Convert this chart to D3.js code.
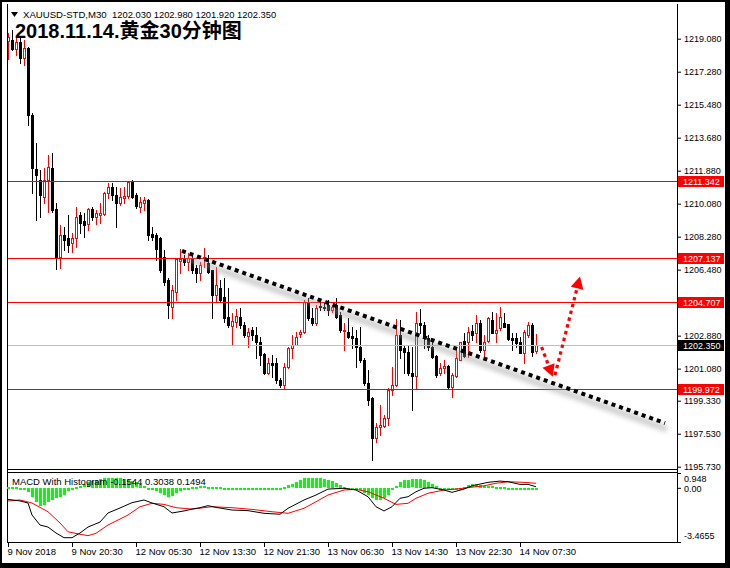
<!DOCTYPE html>
<html><head><meta charset="utf-8">
<script src="https://cdn.jsdelivr.net/npm/d3@7"></script>
<style>body{margin:0;background:#fff}svg{display:block}</style>
</head><body><svg id="c" width="730" height="568"></svg>
<script>
// ---------- DATA ----------
const opens = [1218.97,1219.03,1218.54,1218.92,1218.04,1218.59,1214.93,1211.99,1211.39,1210.46,1211.39,1212.04,1209.81,1207.18,1208.39,1208.22,1207.95,1208.22,1209.48,1209.15,1208.99,1209.81,1209.37,1209.48,1209.53,1210.68,1211.01,1210.57,1210.13,1210.41,1210.52,1211.28,1210.57,1209.91,1210.13,1210.30,1208.44,1208.39,1208.22,1207.18,1205.93,1204.46,1205.28,1206.97,1207.13,1206.91,1207.13,1206.59,1206.32,1207.13,1206.86,1206.48,1205.11,1205.50,1205.01,1203.91,1203.42,1203.64,1203.91,1203.48,1202.88,1203.21,1202.93,1202.55,1201.89,1200.86,1201.41,1201.41,1200.48,1200.20,1201.19,1202.22,1202.39,1202.99,1203.10,1204.73,1203.86,1203.59,1204.51,1204.46,1204.57,1204.30,1204.57,1204.02,1203.15,1203.10,1202.88,1202.77,1202.28,1201.57,1200.31,1199.50,1197.31,1197.91,1197.97,1198.40,1199.93,1200.20,1202.93,1202.22,1202.00,1200.86,1200.69,1203.59,1203.48,1202.77,1202.28,1201.79,1200.86,1201.13,1201.24,1200.09,1200.69,1201.57,1202.61,1202.55,1203.15,1203.04,1203.59,1202.11,1202.61,1203.75,1203.04,1203.31,1203.59,1203.53,1202.77,1202.77,1202.55,1201.95,1202.93,1203.48,1202.03];
const highs = [1219.41,1219.57,1219.14,1219.14,1219.03,1218.64,1215.04,1213.41,1211.93,1212.04,1212.75,1212.86,1210.13,1208.93,1208.82,1209.48,1208.50,1209.91,1209.64,1209.59,1209.86,1209.91,1209.75,1210.13,1210.73,1211.22,1211.22,1211.01,1210.95,1211.01,1211.33,1211.39,1210.68,1210.46,1210.46,1210.35,1208.82,1208.50,1208.28,1207.57,1206.04,1205.66,1207.13,1207.62,1207.29,1207.40,1207.29,1206.75,1206.91,1207.68,1207.29,1206.48,1206.64,1205.93,1206.04,1205.50,1204.13,1204.35,1204.41,1203.64,1203.31,1203.37,1203.37,1202.82,1201.95,1201.68,1201.84,1201.68,1200.59,1201.41,1202.28,1202.93,1203.10,1203.21,1204.84,1204.95,1204.41,1204.57,1204.73,1204.73,1204.84,1204.57,1204.95,1204.19,1203.59,1203.86,1203.37,1203.21,1203.37,1201.68,1201.02,1199.55,1198.13,1199.11,1198.57,1200.04,1201.19,1203.80,1203.75,1202.39,1202.39,1202.28,1204.19,1204.35,1203.64,1202.93,1202.66,1201.84,1201.41,1201.57,1201.30,1200.86,1202.22,1202.55,1203.04,1203.37,1203.48,1204.02,1203.75,1202.93,1203.91,1204.19,1204.13,1204.46,1204.13,1203.53,1203.04,1203.04,1202.82,1203.21,1203.64,1203.59,1202.98];
const lows = [1217.99,1218.48,1218.21,1217.77,1217.66,1214.39,1210.68,1209.21,1209.37,1210.13,1209.64,1209.64,1206.53,1206.59,1207.57,1207.46,1207.46,1207.73,1208.50,1208.28,1208.66,1209.21,1208.99,1209.04,1209.48,1210.41,1210.30,1208.82,1210.02,1210.13,1210.41,1210.41,1209.86,1209.64,1209.75,1208.11,1208.11,1207.02,1206.37,1205.66,1203.86,1203.86,1204.84,1206.32,1206.75,1206.48,1206.32,1205.82,1205.93,1206.64,1206.32,1203.86,1204.73,1204.73,1203.64,1203.37,1202.39,1203.37,1203.31,1202.82,1202.28,1202.66,1201.68,1201.30,1200.80,1200.80,1200.64,1200.31,1200.09,1200.04,1201.13,1201.68,1202.39,1202.82,1203.04,1203.75,1203.48,1203.48,1204.30,1204.30,1204.02,1204.19,1203.86,1203.10,1202.11,1202.77,1202.22,1201.19,1201.46,1200.20,1199.11,1196.11,1197.09,1197.48,1197.91,1198.02,1199.66,1200.15,1201.68,1200.86,1200.75,1198.84,1200.04,1203.04,1202.22,1202.11,1201.68,1200.64,1200.75,1200.86,1200.04,1199.55,1200.64,1201.57,1201.73,1201.73,1202.66,1202.55,1202.00,1201.73,1202.55,1203.04,1202.55,1203.21,1203.37,1202.66,1202.11,1202.28,1201.95,1201.41,1202.82,1201.79,1201.92];
const closes = [1219.19,1218.54,1218.92,1218.04,1218.59,1214.93,1212.04,1211.66,1210.57,1211.39,1212.10,1209.75,1207.18,1208.39,1208.11,1207.84,1208.22,1209.37,1209.04,1208.93,1209.81,1209.37,1209.59,1209.59,1210.68,1211.01,1210.57,1210.13,1210.46,1210.52,1211.28,1210.46,1209.97,1210.19,1210.30,1208.39,1208.28,1207.62,1206.48,1205.82,1204.57,1205.39,1207.08,1207.08,1206.91,1207.13,1206.48,1206.32,1206.75,1207.18,1206.37,1205.11,1205.66,1204.84,1203.86,1203.48,1203.70,1203.97,1203.48,1202.93,1203.10,1202.93,1202.55,1201.84,1200.86,1201.41,1201.30,1200.48,1200.20,1201.19,1202.22,1202.39,1202.82,1203.10,1204.73,1203.86,1203.59,1204.41,1204.46,1204.41,1204.30,1204.46,1203.91,1203.21,1203.21,1202.82,1202.77,1202.28,1201.57,1200.31,1199.39,1197.31,1197.91,1198.02,1198.40,1199.93,1200.20,1202.93,1202.11,1202.00,1200.86,1200.69,1203.59,1203.48,1202.77,1202.28,1201.73,1200.75,1201.13,1201.24,1200.09,1200.75,1201.68,1202.55,1201.79,1203.10,1202.93,1203.59,1202.11,1202.55,1203.86,1203.04,1203.21,1203.91,1203.37,1202.71,1202.66,1202.50,1201.95,1203.10,1203.48,1202.00,1202.35];

const histValues = [0.05,0.05,0.03,0.0,-0.05,
 -0.25,-0.57,-0.89,-1.14,-1.06,-0.89,-0.74,-0.67,-0.57,-0.42,-0.2,-0.08,0.05,0.13,0.22,0.35,0.43,0.5,0.56,0.61,0.65,0.65,0.65,0.61,0.56,0.5,0.43,0.35,0.24,0.13,0.0,-0.08,-0.16,-0.29,-0.42,-0.57,-0.5,-0.35,-0.2,-0.08,0.0,
 0.05,0.08,0.1,0.1,0.08,0.06,0.05,0.03,0.02,0.0,
 -0.05,-0.08,-0.1,-0.12,-0.12,-0.12,-0.12,-0.12,-0.12,-0.1,-0.1,-0.08,-0.05,
 0.05,0.18,0.22,0.39,0.52,0.61,0.63,0.65,0.65,0.61,0.54,0.48,0.43,0.28,0.18,0.05,-0.03,-0.05,-0.08,-0.14,-0.29,-0.46,-0.61,-0.76,-0.78,-0.67,-0.46,-0.14,0.13,0.35,0.48,0.52,0.54,0.56,0.56,0.52,0.39,0.26,0.09,0.0,-0.03,-0.08,-0.12,-0.1,-0.03,0.07,0.18,0.22,0.22,0.18,0.11,0.09,0.09,0.07,0.05,0.03,0.0,-0.03,-0.08,-0.12,-0.14,-0.12,-0.12,-0.15];
// MACD main line (black) read at these bars
const macdBars   = [0,3,5,6,8,10,12,14,16,18,20,23,25,28,31,34,36,39,41,44,46,48,50,52,56,60,64,68,70,74,77,80,84,87,90,92,94,96,98,100,102,104,106,109,111,114,116,120,123,125,128,130,132];
const macdValues = [-0.74,-0.84,-0.97,-1.74,-2.38,-2.51,-2.89,-3.19,-3.19,-2.89,-2.51,-2.19,-1.61,-1.29,-0.95,-0.78,-0.97,-1.21,-1.61,-1.48,-1.36,-1.27,-1.14,-1.25,-1.42,-1.46,-1.63,-1.69,-1.31,-0.78,-0.46,-0.08,-0.03,-0.14,-0.57,-1.21,-1.48,-1.21,-0.67,-0.57,-0.25,-0.03,0.01,-0.14,-0.29,-0.08,0.13,0.35,0.43,0.39,0.22,0.22,0.07];
// signal line (red) read at these bars
const signalBars   = [0,3,6,10,13,15,18,20,22,25,30,33,36,39,42,46,51,56,61,66,70,74,77,80,84,87,90,94,97,100,102,105,109,112,115,119,122,125,129,132];
const signalValues = [-0.84,-0.78,-0.97,-1.53,-2.25,-2.81,-2.97,-3.06,-2.91,-2.38,-1.74,-1.21,-0.99,-1.06,-1.27,-1.36,-1.21,-1.27,-1.38,-1.53,-1.63,-1.31,-0.89,-0.46,-0.14,-0.10,-0.25,-0.67,-1.06,-0.99,-0.67,-0.35,-0.14,-0.08,0.01,0.13,0.29,0.39,0.35,0.29];

const priceTicks = [1219.08,1217.28,1215.48,1213.68,1211.88,1210.08,1208.28,1206.48,1202.88,1201.08,1199.33,1197.53,1195.73];
const priceTickLabels = ["1219.080","1217.280","1215.480","1213.680","1211.880","1210.080","1208.280","1206.480","1202.880","1201.080","1199.330","1197.530","1195.730"];
const levelPrices = [1211.342,1207.137,1204.707,1199.972];
const levelLabels = ["1211.342","1207.137","1204.707","1199.972"];
const lastPrice = 1202.35, lastLabel = "1202.350";
const timeTickBars = [0,16,32,48,64,80,96,112,128];
const timeLabels = ["9 Nov 2018","9 Nov 20:30","12 Nov 05:30","12 Nov 13:30","12 Nov 21:30","13 Nov 06:30","13 Nov 14:30","13 Nov 22:30","14 Nov 07:30"];
const macdTicks = [0.948, 0, -3.4655];
const macdTickLabels = ["0.948","0.00","-3.4655"];
const trendLine = [[43.5,1207.50],[164.25,1198.11]];
const arrowDown = [[133.4,1202.26],[136.2,1200.64]];
const arrowUp = [[136.75,1200.73],[143,1206.10]];
const headerSymbol = "XAUUSD-STD,M30";
const headerValues = "1202.030 1202.980 1201.920 1202.350";
const titleText = "2018.11.14.黄金30分钟图";
const macdTitle = "MACD With Histogram -0.1544 0.3038 0.1494";

// ---------- LAYOUT ----------
const svg = d3.select("#c");
const L = 7, R = 677, mTop = 4, mBot = 470, iTop = 472, iBot = 543;
const x = d3.scaleLinear().domain([0,132]).range([8,536]);
const y = d3.scaleLinear().domain([1195.73,1219.08]).range([466.7,38.7]);
const yM = d3.scaleLinear().domain([-3.4655,0.948]).range([542,473]);
const FONT = "'Liberation Sans', Arial, sans-serif";

svg.append("rect").attr("width",730).attr("height",568).attr("fill","#000");
svg.append("rect").attr("x",2).attr("y",2).attr("width",723).attr("height",561).attr("fill","#fff");

const defs = svg.append("defs");
defs.append("clipPath").attr("id","mainClip").append("rect").attr("x",L+1).attr("y",mTop).attr("width",R-L-1).attr("height",mBot-mTop);
defs.append("filter").attr("id","blur").attr("x","-10%").attr("y","-50%").attr("width","120%").attr("height","200%")
  .append("feGaussianBlur").attr("stdDeviation",2.4);

// frame lines
const frame = svg.append("g").attr("stroke","#000").attr("shape-rendering","crispEdges");
frame.append("line").attr("x1",L+0.5).attr("x2",L+0.5).attr("y1",mTop).attr("y2",iBot);
frame.append("line").attr("x1",R+0.5).attr("x2",R+0.5).attr("y1",mTop).attr("y2",iBot);
frame.append("line").attr("x1",L).attr("x2",R+1).attr("y1",mBot-0.5).attr("y2",mBot-0.5);
frame.append("line").attr("x1",L).attr("x2",R+1).attr("y1",iTop+0.5).attr("y2",iTop+0.5);
frame.append("line").attr("x1",L).attr("x2",R+1).attr("y1",iBot-0.5).attr("y2",iBot-0.5);

const main = svg.append("g").attr("clip-path","url(#mainClip)");

// candles
const bars = d3.range(opens.length).map(i => ({i, o:opens[i], h:highs[i], l:lows[i], c:closes[i]}));
const cg = main.append("g").attr("shape-rendering","crispEdges");
bars.forEach(d => {
  const cx = Math.round(x(d.i));
  const bull = d.c > d.o;
  const col = bull ? "#ff0000" : "#000";
  cg.append("line").attr("x1",cx+0.5).attr("x2",cx+0.5)
    .attr("y1",Math.round(y(d.h))).attr("y2",Math.round(y(d.l))+1).attr("stroke",col);
  const yt = Math.round(y(Math.max(d.o,d.c))), yb = Math.round(y(Math.min(d.o,d.c)));
  if (bull) {
    cg.append("rect").attr("x",cx-0.5).attr("y",yt+0.5).attr("width",2).attr("height",Math.max(0,yb-yt))
      .attr("fill","#fff").attr("stroke",col);
  } else {
    cg.append("rect").attr("x",cx-1).attr("y",yt).attr("width",3).attr("height",Math.max(1,yb-yt+1)).attr("fill",col);
  }
});

// current price line
main.append("line").attr("x1",L).attr("x2",R).attr("y1",Math.round(y(lastPrice))+0.5).attr("y2",Math.round(y(lastPrice))+0.5)
  .attr("stroke","#c0c0c0").attr("shape-rendering","crispEdges");
// level lines
main.selectAll("line.lvl").data(levelPrices).join("line").attr("class","lvl")
  .attr("x1",L).attr("x2",R).attr("y1",d=>Math.round(y(d))+0.5).attr("y2",d=>Math.round(y(d))+0.5)
  .attr("stroke","#ff0000").attr("shape-rendering","crispEdges");

// trend line with shadow
const tx1 = x(trendLine[0][0]), ty1 = y(trendLine[0][1]), tx2 = x(trendLine[1][0]), ty2 = y(trendLine[1][1]);
main.append("line").attr("x1",tx1+2).attr("y1",ty1+6).attr("x2",tx2+2).attr("y2",ty2+6)
  .attr("stroke","#9a9a9a").attr("stroke-width",6).attr("opacity",0.5).attr("filter","url(#blur)");
main.append("line").attr("x1",tx1).attr("y1",ty1).attr("x2",tx2).attr("y2",ty2)
  .attr("stroke","#000").attr("stroke-width",4).attr("stroke-dasharray","4,4");

// red arrows
function arrow(pts){
  const x1 = x(pts[0][0]), y1 = y(pts[0][1]), x2 = x(pts[1][0]), y2 = y(pts[1][1]);
  const dx = x2-x1, dy = y2-y1, len = Math.hypot(dx,dy), ux = dx/len, uy = dy/len;
  const hl = 12, hw = 6.5;
  const bx = x2-ux*hl, by = y2-uy*hl;
  main.append("line").attr("x1",x1).attr("y1",y1).attr("x2",bx+ux*2).attr("y2",by+uy*2)
    .attr("stroke","#ff0000").attr("stroke-width",3.2).attr("stroke-dasharray","3.5,3.5");
  main.append("path").attr("d",`M${x2},${y2}L${bx-uy*hw},${by+ux*hw}L${bx+uy*hw},${by-ux*hw}Z`).attr("fill","#ff0000");
}
arrow(arrowDown); arrow(arrowUp);

// header
svg.append("path").attr("d","M11,12L18,12L14.5,17Z").attr("fill","#000");
svg.append("text").attr("x",23).attr("y",17.5).attr("font-family",FONT).attr("font-size",9.6).text(headerSymbol);
svg.append("text").attr("x",112).attr("y",17.5).attr("font-family",FONT).attr("font-size",9.4).text(headerValues);
svg.append("text").attr("x",15).attr("y",38).attr("font-family","'Liberation Sans','Noto Sans CJK SC',sans-serif")
  .attr("font-weight","bold").attr("font-size",20).attr("fill","#000").text(titleText);

// price axis
const pAxis = svg.append("g").attr("transform",`translate(${R+1},0)`)
  .call(d3.axisRight(y).tickValues(priceTicks).tickFormat((d,i)=>priceTickLabels[i]).tickSize(3).tickPadding(3));
pAxis.select(".domain").remove();
pAxis.selectAll("text").attr("font-family",FONT).attr("font-size",9).attr("fill","#000");
pAxis.selectAll("line").attr("stroke","#000");

// level labels
const lv = svg.append("g");
levelPrices.forEach((p,i)=>{
  const yy = Math.round(y(p));
  lv.append("rect").attr("x",R+1).attr("y",yy-5).attr("width",46).attr("height",11).attr("fill","#ff0000");
  lv.append("text").attr("x",R+6).attr("y",yy+3.5).attr("font-family",FONT).attr("font-size",9).attr("fill","#fff").text(levelLabels[i]);
});
{
  const yy = Math.round(y(lastPrice));
  lv.append("rect").attr("x",R+1).attr("y",yy-5).attr("width",46).attr("height",11).attr("fill","#000");
  lv.append("text").attr("x",R+6).attr("y",yy+3.5).attr("font-family",FONT).attr("font-size",9).attr("fill","#fff").text(lastLabel);
}

// MACD panel
const mg = svg.append("g");
mg.append("g").attr("shape-rendering","crispEdges").selectAll("rect").data(histValues).join("rect")
  .attr("x",(d,i)=>Math.round(x(i))-1).attr("width",3)
  .attr("y",d=>Math.round(Math.min(yM(d),yM(0))))
  .attr("height",d=>Math.max(2,Math.round(Math.abs(yM(d)-yM(0)))))
  .attr("fill","#00ff00");
const ln = d3.line().x(d=>x(d[0])).y(d=>yM(d[1]));
mg.append("path").attr("d",ln(signalBars.map((b,k)=>[b,signalValues[k]]))).attr("fill","none").attr("stroke","#ff0000").attr("stroke-width",1);
mg.append("path").attr("d",ln(macdBars.map((b,k)=>[b,macdValues[k]]))).attr("fill","none").attr("stroke","#000").attr("stroke-width",1);
mg.append("text").attr("x",12).attr("y",484.5).attr("font-family",FONT).attr("font-size",9.5).text(macdTitle);

const mAxis = svg.append("g").attr("transform",`translate(${R+1},0)`)
  .call(d3.axisRight(yM).tickValues(macdTicks).tickFormat((d,i)=>macdTickLabels[i]).tickSize(3).tickPadding(3));
mAxis.select(".domain").remove();
mAxis.selectAll("text").attr("font-family",FONT).attr("font-size",9).attr("fill","#000")
  .attr("transform",(d,i)=> i===0 ? "translate(0,6)" : i===2 ? "translate(0,-6)" : "translate(0,1)");
mAxis.selectAll("line").attr("stroke","#000");

// time axis
const tAxis = svg.append("g").attr("transform",`translate(0,${iBot})`)
  .call(d3.axisBottom(x).tickValues(timeTickBars).tickFormat((d,i)=>timeLabels[i]).tickSize(4).tickPadding(1));
tAxis.select(".domain").remove();
tAxis.selectAll("line").attr("stroke","#000");
tAxis.selectAll("text").attr("font-family",FONT).attr("font-size",9.5).attr("fill","#000")
  .attr("text-anchor","start").attr("dx",-1);
</script></body></html>
